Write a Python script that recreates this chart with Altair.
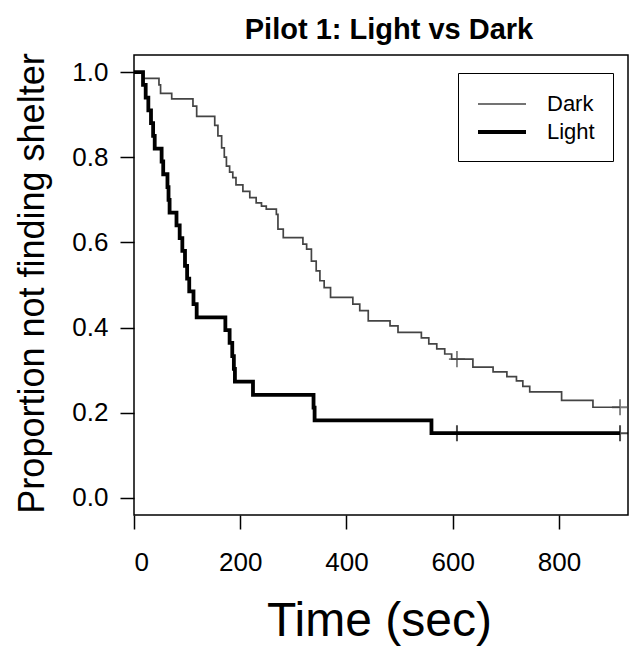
import altair as alt
import pandas as pd

# Kaplan-Meier style step data
dark_t = [0, 17, 47, 50, 71, 111, 118, 152, 158, 165, 170, 174, 180, 186, 192,
          205, 218, 230, 240, 249, 268, 271, 281, 318, 325, 334, 343, 350, 358,
          370, 412, 425, 441, 482, 497, 541, 555, 570, 585, 598, 638, 676, 702,
          720, 732, 745, 805, 864, 915]
dark_s = [1.0, 0.985, 0.97, 0.95, 0.937, 0.92, 0.896, 0.875, 0.85, 0.822, 0.80,
          0.779, 0.765, 0.752, 0.735, 0.72, 0.705, 0.693, 0.685, 0.678, 0.666,
          0.631, 0.611, 0.596, 0.584, 0.556, 0.533, 0.51, 0.494, 0.471, 0.455,
          0.44, 0.416, 0.404, 0.389, 0.376, 0.362, 0.35, 0.338, 0.326, 0.307,
          0.296, 0.285, 0.275, 0.262, 0.249, 0.229, 0.213, 0.213]

light_t = [0, 17, 22, 27, 32, 36, 39, 52, 55, 63, 65, 67, 80, 86, 91, 96, 100,
           104, 112, 118, 172, 180, 185, 188, 190, 224, 338, 340, 560, 915]
light_s = [1.0, 0.97, 0.94, 0.91, 0.88, 0.85, 0.82, 0.79, 0.76, 0.73, 0.70, 0.67,
           0.64, 0.61, 0.58, 0.545, 0.515, 0.485, 0.455, 0.424, 0.394, 0.364,
           0.333, 0.303, 0.273, 0.242, 0.212, 0.182, 0.152, 0.152]

censor_t = [608, 915]
dark_censor_s = [0.326, 0.213]
light_censor_s = [0.152, 0.152]

groups = ["Dark", "Light"]
x_ticks = [0, 200, 400, 600, 800]
y_ticks = [0.0, 0.2, 0.4, 0.6, 0.8, 1.0]

df = pd.concat([
    pd.DataFrame({"t": dark_t, "s": dark_s, "group": "Dark"}),
    pd.DataFrame({"t": light_t, "s": light_s, "group": "Light"}),
], ignore_index=True)
df_dark_c = pd.DataFrame({"t": censor_t, "s": dark_censor_s})
df_light_c = pd.DataFrame({"t": censor_t, "s": light_censor_s})

FONT = "Liberation Sans"
xscale = alt.Scale(domain=[0, 930], nice=False, zero=False)
yscale = alt.Scale(domain=[-0.04, 1.04], nice=False, zero=False)

xenc = alt.X("t:Q", scale=xscale, axis=alt.Axis(
    values=x_ticks, format="d", title="Time (sec)", titleFontSize=48,
    titleFont=FONT, titleFontWeight="normal", titleColor="black",
    titleX=245, titleY=120, titleBaseline="alphabetic", titleAlign="center",
    labelPadding=20))
yenc = alt.Y("s:Q", scale=yscale, axis=alt.Axis(
    values=y_ticks, format=".1f", title="Proportion not finding shelter",
    titleFontSize=36, titleFont=FONT, titleFontWeight="normal",
    titleColor="black", titleAngle=270, titleX=-91, titleY=228,
    titleBaseline="alphabetic", titleAlign="center", labelPadding=12))

lines = alt.Chart(df).mark_line(interpolate="step-after").encode(
    x=xenc, y=yenc,
    color=alt.Color("group:N", scale=alt.Scale(domain=groups, range=["#444444", "#000000"]), title=None),
    strokeWidth=alt.StrokeWidth("group:N", scale=alt.Scale(domain=groups, range=[1.7, 3.8]), title=None),
)

cross = "M-1,0L1,0M0,-1L0,1"
dark_c = alt.Chart(df_dark_c).mark_point(shape=cross, size=260, filled=False,
                                          stroke="#444444", strokeWidth=1.8).encode(x="t:Q", y="s:Q")
light_c = alt.Chart(df_light_c).mark_point(shape=cross, size=260, filled=False,
                                            stroke="#000000", strokeWidth=2.0).encode(x="t:Q", y="s:Q")

chart = alt.layer(lines, dark_c, light_c).properties(
    width=494, height=460,
    autosize=alt.AutoSizeParams(type="none"),
    padding={"left": 134, "top": 55, "right": 3, "bottom": 131},
    title=alt.TitleParams("Pilot 1: Light vs Dark", font=FONT, fontSize=29,
                          fontWeight="bold", color="black", anchor="middle",
                          frame="group", baseline="alphabetic", offset=17,
                          dy=32, dx=8),
).configure_view(
    stroke="black", strokeWidth=1.5
).configure_axis(
    domain=False, grid=False, tickColor="black", tickSize=14, tickWidth=1.5,
    labelFont=FONT, labelFontSize=26, labelColor="black"
).configure_legend(
    orient="none", legendX=324, legendY=18, symbolType="M-1,0L3,0",
    symbolSize=576, labelFont=FONT, labelFontSize=22, labelColor="black",
    strokeColor="black", fillColor="white", padding=18, labelOffset=43,
    rowPadding=3, cornerRadius=0
)

chart.save("out.html", embed_options={"renderer": "svg", "actions": False})
